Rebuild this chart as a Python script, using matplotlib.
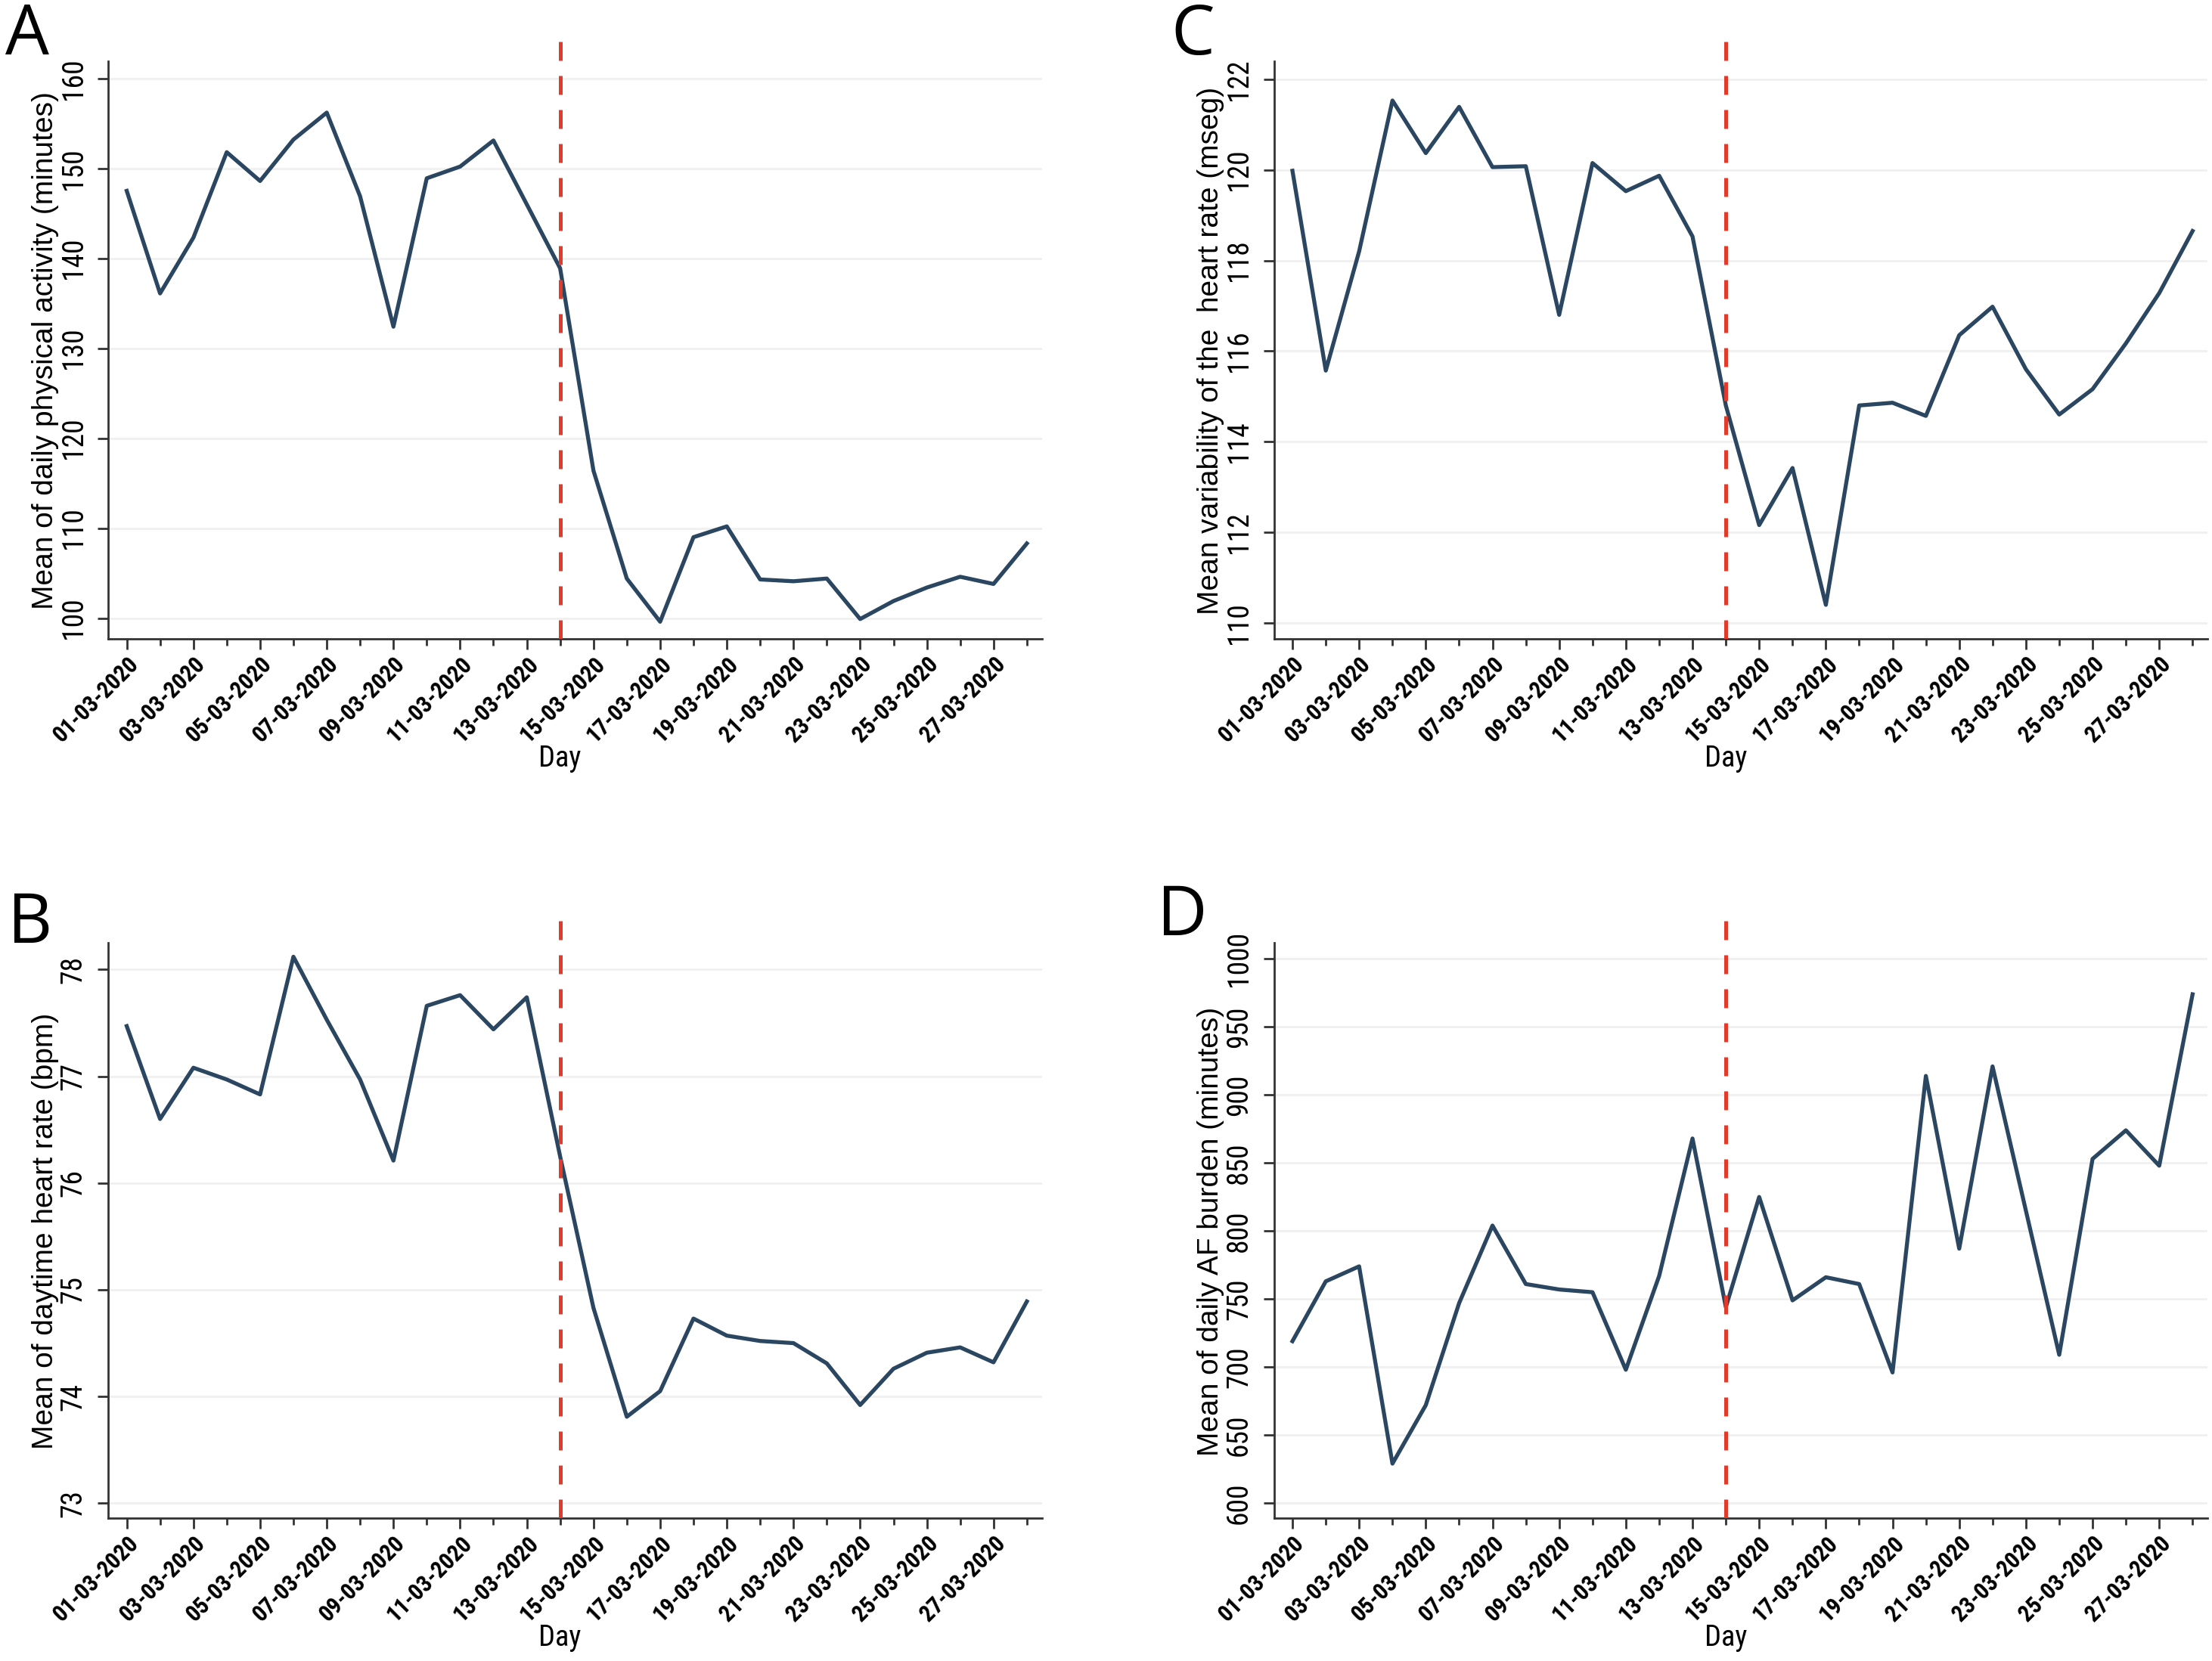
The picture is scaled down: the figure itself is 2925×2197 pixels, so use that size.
import matplotlib
matplotlib.use("Agg")
import matplotlib.pyplot as plt
from matplotlib import font_manager
from matplotlib.ticker import FixedLocator

# data (March 2020, one value per day)
days = list(range(1, 29))
lockdown_day = 14
major_days = [1, 3, 5, 7, 9, 11, 13, 15, 17, 19, 21, 23, 25, 27]
minor_days = [2, 4, 6, 8, 10, 12, 14, 16, 18, 20, 22, 24, 26, 28]
date_labels = ["01-03-2020", "03-03-2020", "05-03-2020", "07-03-2020",
               "09-03-2020", "11-03-2020", "13-03-2020", "15-03-2020",
               "17-03-2020", "19-03-2020", "21-03-2020", "23-03-2020",
               "25-03-2020", "27-03-2020"]

activity = [147.5, 136.1, 142.3, 151.8, 148.6, 153.2, 156.2, 146.9, 132.4, 148.9,
            150.2, 153.1, 146.0, 138.9, 116.4, 104.4, 99.6, 109.0, 110.2, 104.3,
            104.1, 104.4, 99.9, 101.9, 103.4, 104.6, 103.8, 108.3]
heart_rate = [77.47, 76.60, 77.08, 76.97, 76.83, 78.12, 77.53, 76.97, 76.21, 77.66,
              77.76, 77.44, 77.74, 76.25, 74.83, 73.81, 74.05, 74.73, 74.57, 74.52,
              74.50, 74.31, 73.92, 74.26, 74.41, 74.46, 74.32, 74.89]
hrv = [119.98, 115.57, 118.2, 121.53, 120.37, 121.39, 120.06, 120.08, 116.8, 120.15,
       119.53, 119.87, 118.53, 114.8, 112.16, 113.42, 110.4, 114.8, 114.86, 114.57,
       116.35, 116.98, 115.6, 114.6, 115.16, 116.17, 117.28, 118.65]
af_burden = [719, 763, 774, 629, 672, 747, 804, 761, 757, 755,
             698, 767, 868, 744, 825, 749, 766, 761, 696, 914,
             787, 921, 815, 709, 853, 874, 848, 974]

activity_ticks = [100, 110, 120, 130, 140, 150, 160]
heart_rate_ticks = [73, 74, 75, 76, 77, 78]
hrv_ticks = [110, 112, 114, 116, 118, 120, 122]
af_ticks = [600, 650, 700, 750, 800, 850, 900, 950, 1000]

installed = {f.name for f in font_manager.fontManager.ttflist}


def pick(*names):
    for n in names:
        if n in installed:
            return n
    return "DejaVu Sans"


narrow = pick("Liberation Sans Narrow", "Roboto Condensed", "Roboto")
regular = pick("Liberation Sans", "Arial", "DejaVu Sans")
letter_font = pick("Open Sans", "Noto Sans")

LINE = "#2b4660"
RED = "#e23b2b"

fig = plt.figure(figsize=(14.625, 10.985), dpi=200)
fig.patch.set_facecolor("white")


def panel(rect, values, ylabel, yticks, ylim, spine_top, letter, letter_xy):
    ax = fig.add_axes(rect)
    ax.set_facecolor("white")
    ax.set_xlim(0.45, 28.45)
    ax.set_ylim(*ylim)
    for t in yticks:
        ax.axhline(t, color="#f0f0f0", lw=1.0, zorder=0)
    ax.plot(days, values, color=LINE, lw=1.9, zorder=3)
    ax.axvline(lockdown_day, color=RED, lw=1.8, dashes=(5, 4), zorder=4)

    for s in ("top", "right"):
        ax.spines[s].set_visible(False)
    for s in ("left", "bottom"):
        ax.spines[s].set_color("#333333")
        ax.spines[s].set_linewidth(1.0)
    ax.spines["left"].set_bounds(ylim[0], spine_top)

    ax.xaxis.set_major_locator(FixedLocator(major_days))
    ax.xaxis.set_minor_locator(FixedLocator(minor_days))
    ax.set_xticklabels(date_labels, rotation=45, ha="right",
                       rotation_mode="anchor", family=narrow,
                       fontweight="bold", fontsize=11)
    ax.tick_params(axis="x", which="major", length=5, width=1.0,
                   color="#333333", pad=1.5)
    ax.tick_params(axis="x", which="minor", length=3.2, width=1.0,
                   color="#333333")

    ax.set_yticks(yticks)
    ax.set_yticklabels([str(t) for t in yticks], rotation=90, va="center",
                       family=narrow, fontsize=13.5)
    ax.tick_params(axis="y", length=5, width=1.0, color="#333333", pad=5)
    ax.set_ylabel(ylabel, family=regular, fontsize=14)
    ax.yaxis.set_label_coords(-0.053, 0.475)

    ax.text(lockdown_day, -0.211, "Day", transform=ax.get_xaxis_transform(),
            ha="center", va="baseline", family=narrow, fontsize=13.8)
    fig.text(letter_xy[0], letter_xy[1], letter, ha="center", va="center",
             family=letter_font, fontsize=33)
    return ax


top_row = (0.6154, 0.9804 - 0.6154)
bot_row = (0.086, 0.4497 - 0.086)
left_col = (0.049, 0.471 - 0.049)
right_col = (0.576, 0.998 - 0.576)

panel([left_col[0], top_row[0], left_col[1], top_row[1]], activity,
      "Mean of daily physical activity (minutes)", activity_ticks,
      (97.7, 165.1), 161.9, "A", (36 / 2925, 1 - 48 / 2197))
panel([right_col[0], top_row[0], right_col[1], top_row[1]], hrv,
      "Mean variability of the  heart rate (mseg)", hrv_ticks,
      (109.65, 123.03), 122.4, "C", (1577 / 2925, 1 - 48 / 2197))
panel([left_col[0], bot_row[0], left_col[1], bot_row[1]], heart_rate,
      "Mean of daytime heart rate (bpm)", heart_rate_ticks,
      (72.86, 78.52), 78.25, "B", (40 / 2925, 1 - 1223 / 2197))
panel([right_col[0], bot_row[0], right_col[1], bot_row[1]], af_burden,
      "Mean of daily AF burden (minutes)", af_ticks,
      (588.9, 1033), 1011.7, "D", (1563 / 2925, 1 - 1213 / 2197))

fig.savefig("out.png", dpi=200, facecolor="white")
